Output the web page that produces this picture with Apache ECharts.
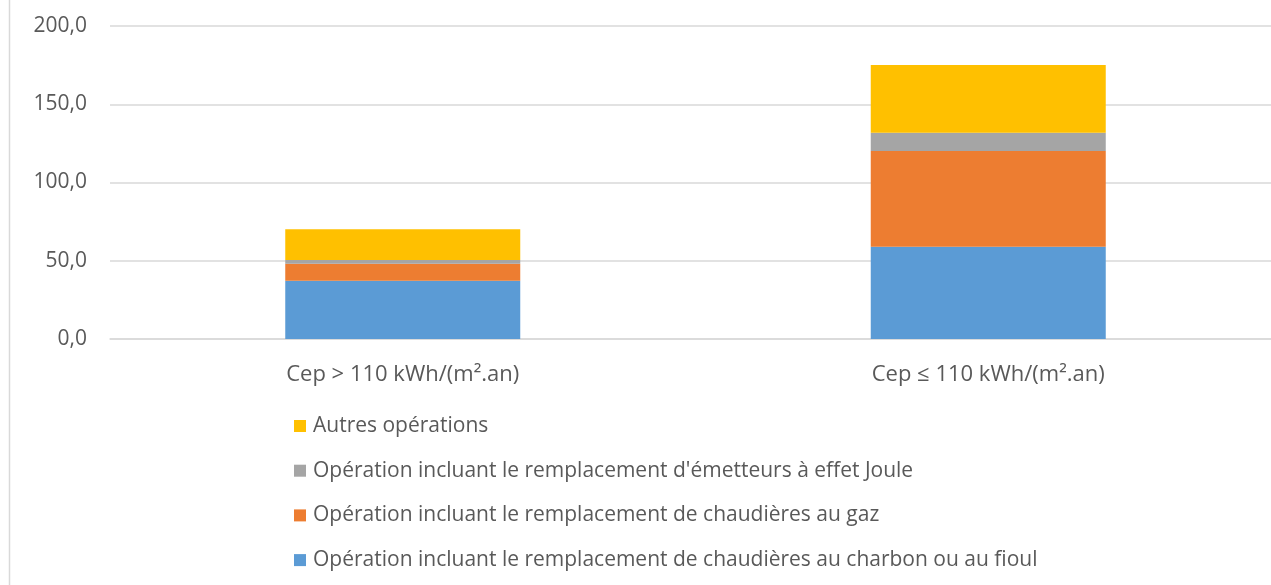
<!DOCTYPE html>
<html><head><meta charset="utf-8">
<script src="https://cdn.jsdelivr.net/npm/echarts@6/dist/echarts.min.js"></script>
<style>html,body{margin:0;padding:0;background:#fff}#c{width:1271px;height:585px}</style>
</head><body><div id="c"></div>
<script>
const categories = ['Cep > 110 kWh/(m².an)', 'Cep ≤ 110 kWh/(m².an)'];
const seriesNames = [
  'Opération incluant le remplacement de chaudières au charbon ou au fioul',
  'Opération incluant le remplacement de chaudières au gaz',
  "Opération incluant le remplacement d'émetteurs à effet Joule",
  'Autres opérations'
];
const charbonFioul = [37.3, 59.0];
const gaz = [10.8, 61.1];
const joule = [2.4, 11.7];
const autres = [19.6, 43.3];
const colors = ['#5b9bd5', '#ed7d31', '#a5a5a5', '#ffc000'];
const values = [charbonFioul, gaz, joule, autres];
const FONT = 'Open Sans';

const chart = echarts.init(document.getElementById('c'));
chart.setOption({
  animation: false,
  textStyle: {fontFamily: FONT},
  grid: {left: 110, top: 26, width: 1171, height: 313, containLabel: false, outerBoundsMode: 'none'},
  legend: {
    orient: 'vertical', left: 289, top: 409, itemGap: 20.7, itemWidth: 12, itemHeight: 12,
    icon: 'rect',
    data: seriesNames.slice().reverse(),
    textStyle: {fontFamily: FONT, fontSize: 21, lineHeight: 24, color: '#595959', padding: [0,0,0,2]}
  },
  xAxis: {
    type: 'category', data: categories,
    axisLine: {lineStyle: {color: '#d9d9d9', width: 1.5}},
    axisTick: {show: false},
    axisLabel: {fontFamily: FONT, fontSize: 22, color: '#595959', margin: 25}
  },
  yAxis: {
    type: 'value', min: 0, max: 200, interval: 50,
    axisLine: {show: false}, axisTick: {show: false},
    splitLine: {lineStyle: {color: '#d9d9d9', width: 1.5}},
    axisLabel: {fontFamily: FONT, fontSize: 21, color: '#595959', margin: 23,
      formatter: v => v.toFixed(1).replace('.', ',')}
  },
  series: values.map((d, i) => ({
    name: seriesNames[i], type: 'bar', stack: 'total', data: d,
    barWidth: 235, itemStyle: {color: colors[i]}
  })),
  graphic: [{type: 'line', shape: {x1: 9.5, y1: 0, x2: 9.5, y2: 585}, style: {stroke: '#d9d9d9', lineWidth: 1.5}}]
});
</script></body></html>
